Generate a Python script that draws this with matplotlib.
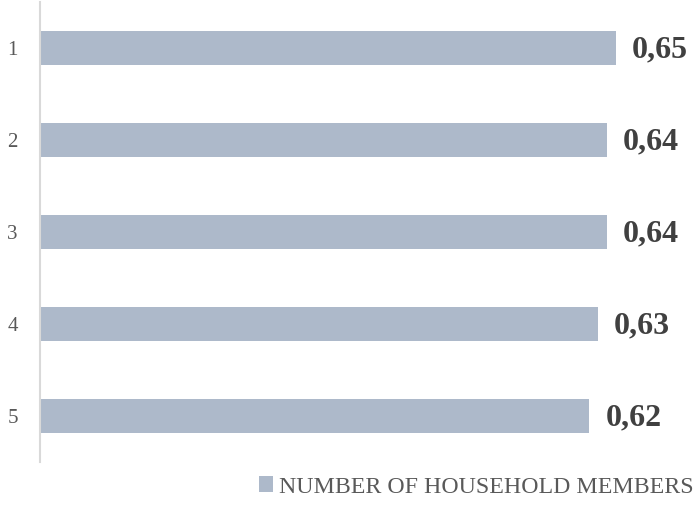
import matplotlib
matplotlib.use("Agg")
import matplotlib.pyplot as plt
from matplotlib.patches import Patch

categories = ["1", "2", "3", "4", "5"]
values = [0.65, 0.64, 0.64, 0.63, 0.62]
labels = ["0,65", "0,64", "0,64", "0,63", "0,62"]
series_name = "NUMBER OF HOUSEHOLD MEMBERS"

bar_color = "#ADB9CA"
text_color = "#595959"

plt.rcParams['font.family'] = ['Liberation Serif', 'DejaVu Serif']

W, H = 694, 526
fig = plt.figure(figsize=(W / 100, H / 100), dpi=100)
ax = fig.add_axes([40 / W, 1 - 462 / H, (W - 40) / W, 460 / H])

y = list(range(len(categories)))
ax.barh(y, values, height=0.36, color=bar_color, zorder=2)
ax.set_ylim(len(categories) - 0.5, -0.5)
ax.set_xlim(0, (W - 40) / 886.0)

for yi, v, lab in zip(y, values, labels):
    ax.annotate(lab, xy=(v, yi), xytext=(16, -2), textcoords="offset pixels",
                ha="left", va="center", fontsize=23, fontweight="bold",
                color="#404040")

ax.set_yticks(y)
ax.set_yticklabels(categories, fontsize=15, color=text_color)
ax.tick_params(axis="y", length=0, pad=16)
ax.set_xticks([])
for s in ["top", "right", "bottom"]:
    ax.spines[s].set_visible(False)
ax.spines["left"].set_color("#D9D9D9")
ax.spines["left"].set_linewidth(1.5)

handle = Patch(facecolor=bar_color, edgecolor="none")
fig.legend([handle], [series_name], loc="center", bbox_to_anchor=(476 / W, 1 - 487 / H),
           frameon=False, fontsize=17.2, handlelength=0.6, handleheight=0.6,
           handletextpad=0.25, labelcolor=text_color, borderaxespad=0, borderpad=0)

fig.savefig("out.png", dpi=100)
